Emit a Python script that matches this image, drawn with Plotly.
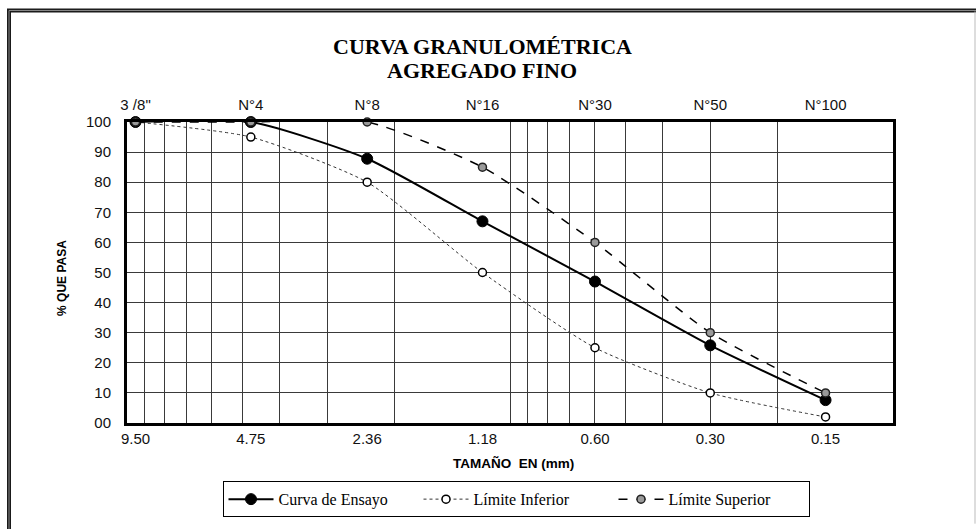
import plotly.graph_objects as go

# ---------------- data ----------------
sizes_mm = [9.50, 4.75, 2.36, 1.18, 0.60, 0.30, 0.15]
size_labels = ["9.50", "4.75", "2.36", "1.18", "0.60", "0.30", "0.15"]
sieve_labels = ['3 /8"', "N°4", "N°8", "N°16", "N°30", "N°50", "N°100"]
curva_ensayo = [100, 100, 87.8, 67.0, 47.0, 25.8, 7.6]
limite_inferior = [100, 95, 80, 50, 25, 10, 2]
limite_superior = [100, 100, 100, 85, 60, 30, 10]
grid_vals = [9, 8, 7, 6, 5, 4, 3, 2, 1, 0.9, 0.8, 0.7, 0.6, 0.5, 0.4, 0.3, 0.2]
y_ticks = [0, 10, 20, 30, 40, 50, 60, 70, 80, 90, 100]
y_ticktext = ["00", "10", "20", "30", "40", "50", "60", "70", "80", "90", "100"]
title_lines = ["CURVA GRANULOMÉTRICA", "AGREGADO FINO"]

# ---------------- layout constants ----------------
W, H = 976, 529
ML, MR, MT, MB = 127, 83, 122, 102
PW, PH = W - ML - MR, H - MT - MB
XR = [1, -1]  # log10 range 10 -> 0.1 (reversed)
SMOOTH = 0.6

sans = "Liberation Sans, Arial, sans-serif"
serif = "Liberation Serif, Times New Roman, serif"


def px_to_paper_x(px):
    return (px - ML) / PW


def px_to_paper_y(py):
    return (H - MB - py) / PH


fig = go.Figure()

fig.add_trace(go.Scatter(
    x=sizes_mm, y=curva_ensayo, name="Curva de Ensayo",
    mode="lines+markers", line=dict(color="black", width=2, shape="spline", smoothing=SMOOTH),
    marker=dict(symbol="circle", size=11, color="black", line=dict(color="black", width=1)),
    cliponaxis=False,
))
fig.add_trace(go.Scatter(
    x=sizes_mm, y=limite_inferior, name="Límite Inferior",
    mode="lines+markers", line=dict(color="#333333", width=1, dash="dot", shape="spline", smoothing=SMOOTH),
    marker=dict(symbol="circle", size=8, color="white", line=dict(color="black", width=1.5)),
    cliponaxis=False,
))
fig.add_trace(go.Scatter(
    x=sizes_mm, y=limite_superior, name="Límite Superior",
    mode="lines+markers", line=dict(color="black", width=1.5, dash="dash", shape="spline", smoothing=SMOOTH),
    marker=dict(symbol="circle", size=8, color="#9a9a9a", line=dict(color="#222222", width=1.5)),
    cliponaxis=False,
))
# invisible carrier traces for the top (sieve) axis and the grid axis
fig.add_trace(go.Scatter(x=sizes_mm, y=curva_ensayo, xaxis="x2", mode="none",
                         showlegend=False, hoverinfo="skip"))
fig.add_trace(go.Scatter(x=sizes_mm, y=curva_ensayo, xaxis="x3", mode="none",
                         showlegend=False, hoverinfo="skip"))

annotations = [
    dict(text="<b>%s</b>" % title_lines[0], xref="paper", yref="paper",
         x=px_to_paper_x(482), y=px_to_paper_y(45), xanchor="center", yanchor="middle",
         showarrow=False, font=dict(family=serif, size=22, color="black")),
    dict(text="<b>%s</b>" % title_lines[1], xref="paper", yref="paper",
         x=px_to_paper_x(482), y=px_to_paper_y(70), xanchor="center", yanchor="middle",
         showarrow=False, font=dict(family=serif, size=22, color="black")),
    dict(text="<b>% QUE PASA</b>", xref="paper", yref="paper",
         x=px_to_paper_x(62), y=px_to_paper_y(280), xanchor="center", yanchor="middle",
         textangle=-90, showarrow=False,
         font=dict(family=sans, size=12, color="black")),
    dict(text="<b>TAMAÑO  EN (mm)</b>", xref="paper", yref="paper",
         x=px_to_paper_x(513), y=px_to_paper_y(468), xanchor="center", yanchor="middle",
         showarrow=False, font=dict(family=sans, size=13.5, color="black")),
]

fig.update_layout(
    width=W, height=H,
    margin=dict(l=ML, r=MR, t=MT, b=MB),
    paper_bgcolor="white", plot_bgcolor="white",
    showlegend=True,
    xaxis=dict(
        type="log", range=XR,
        tickmode="array", tickvals=sizes_mm, ticktext=size_labels,
        showgrid=False, zeroline=False,
        showline=True, linecolor="black", linewidth=3, mirror=True,
        ticks="", ticklabelstandoff=0,
        tickfont=dict(family=sans, size=15, color="#111111"),
    ),
    xaxis2=dict(
        type="log", range=XR, overlaying="x", side="top", anchor="y",
        tickmode="array", tickvals=sizes_mm, ticktext=sieve_labels,
        showgrid=False, zeroline=False, showline=False,
        ticks="", ticklabelstandoff=8,
        tickfont=dict(family=sans, size=15, color="#111111"),
    ),
    xaxis3=dict(
        type="log", range=XR, overlaying="x", anchor="y",
        tickmode="array", tickvals=grid_vals,
        showgrid=True, gridcolor="#3a3a3a", gridwidth=1,
        showticklabels=False, ticks="", zeroline=False, showline=False,
    ),
    yaxis=dict(
        range=[0, 100], tickmode="array", tickvals=y_ticks, ticktext=y_ticktext,
        showgrid=True, gridcolor="#3a3a3a", gridwidth=1, zeroline=False,
        showline=True, linecolor="black", linewidth=3, mirror=True,
        ticks="", ticklabelstandoff=10,
        tickfont=dict(family=sans, size=15, color="#111111"),
    ),
    legend=dict(
        orientation="h", x=px_to_paper_x(516), xanchor="center",
        y=px_to_paper_y(486), yanchor="top",
        font=dict(family=serif, size=16, color="black"),
        bordercolor="black", borderwidth=1, bgcolor="white",
        itemwidth=45, entrywidth=135, traceorder="normal",
    ),
    annotations=annotations,
)

# outer decorative frame (double line at top/left like the original picture)
fig.add_shape(type="rect", xref="paper", yref="paper",
              x0=px_to_paper_x(9), x1=px_to_paper_x(W + 20),
              y0=px_to_paper_y(H + 20), y1=px_to_paper_y(9),
              line=dict(color="#1a1a1a", width=4), layer="above")
fig.add_shape(type="rect", xref="paper", yref="paper",
              x0=px_to_paper_x(9), x1=px_to_paper_x(W + 20),
              y0=px_to_paper_y(H + 20), y1=px_to_paper_y(9),
              line=dict(color="#8a8a8a", width=1), layer="above")
fig.add_shape(type="line", xref="paper", yref="paper",
              x0=px_to_paper_x(W - 1), x1=px_to_paper_x(W - 1),
              y0=px_to_paper_y(10), y1=px_to_paper_y(H),
              line=dict(color="#bbbbbb", width=1))

fig.write_html("out.html", config={"displayModeBar": False},
               post_script="document.body.style.margin='0';")
